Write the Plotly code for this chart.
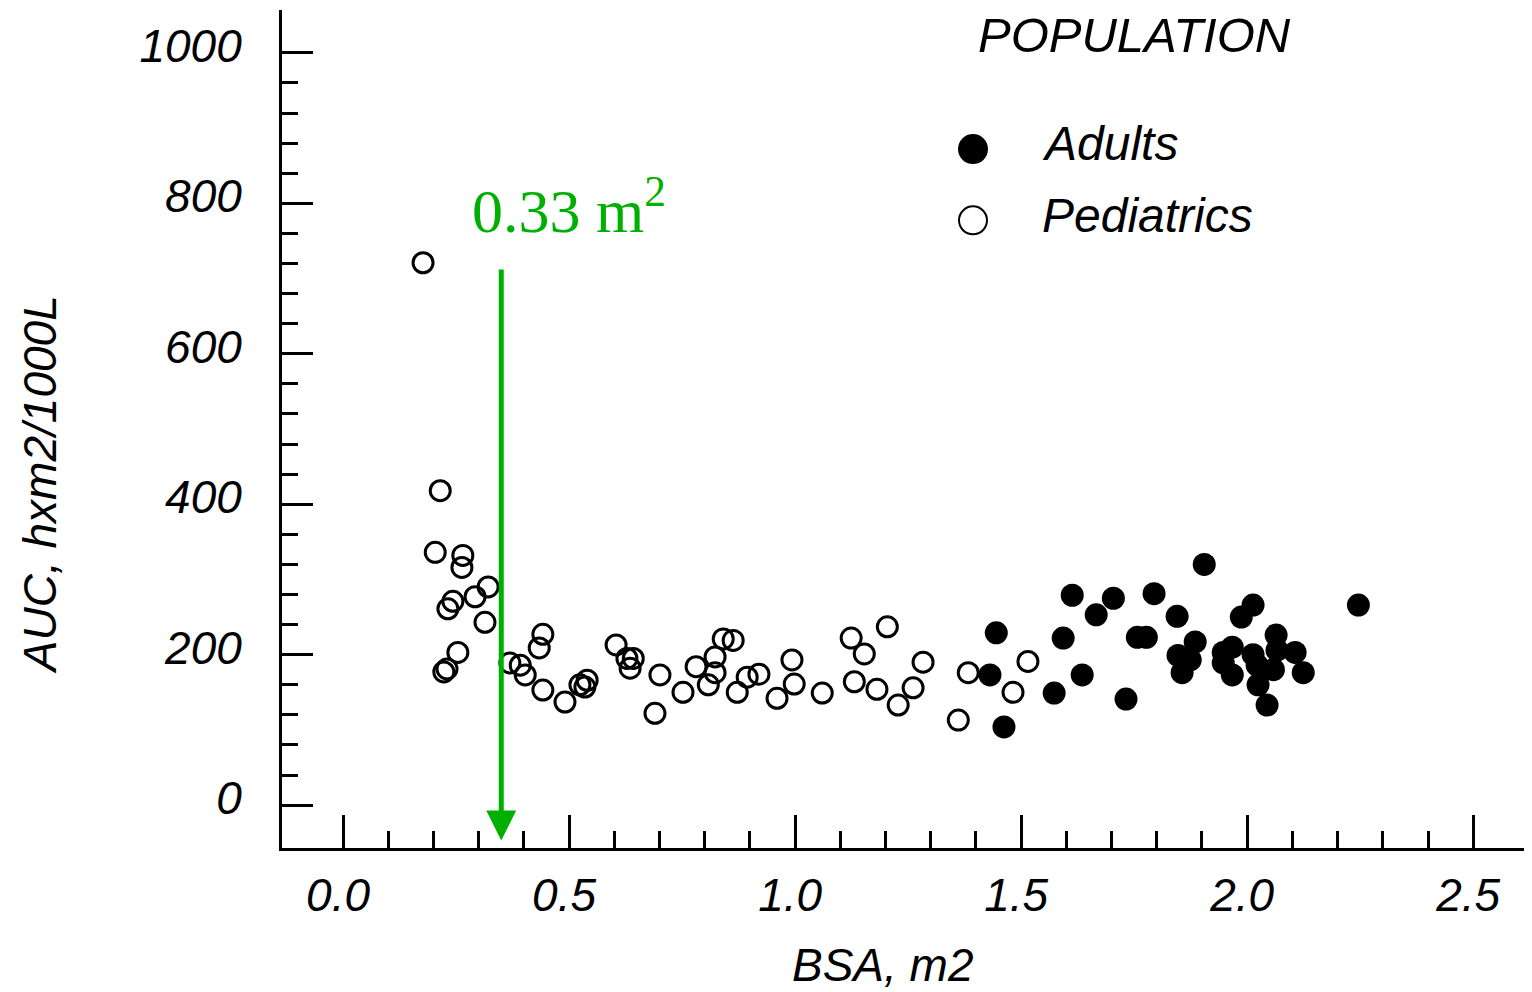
import plotly.graph_objects as go

# Pediatrics (open circles) - BSA (m2) and AUC (h x m2 / 1000 L)
ped_bsa = [0.177, 0.215, 0.204, 0.265, 0.263, 0.321, 0.292, 0.243, 0.232, 0.314,
           0.254, 0.230, 0.223, 0.369, 0.392, 0.403, 0.442, 0.434, 0.442, 0.491,
           0.524, 0.540, 0.535, 0.604, 0.628, 0.642, 0.635, 0.701, 0.690, 0.752,
           0.781, 0.823, 0.841, 0.863, 0.823, 0.808, 0.872, 0.894, 0.920, 0.960,
           0.993, 0.998, 1.060, 1.124, 1.153, 1.204, 1.131, 1.181, 1.228, 1.261,
           1.283, 1.383, 1.361, 1.482, 1.515]
ped_auc = [721, 418, 336, 332, 316, 290, 277, 271, 261, 243,
           203, 181, 177, 189, 186, 173, 227, 209, 153, 137,
           160, 166, 157, 213, 195, 195, 182, 173, 122, 150,
           184, 197, 221, 219, 176, 160, 150, 170, 174, 142,
           193, 161, 149, 222, 201, 237, 164, 154, 133, 156,
           190, 176, 113, 150, 191]

# Adults (filled circles)
adult_bsa = [1.445, 1.431, 1.462, 1.573, 1.593, 1.613, 1.704, 1.666, 1.794, 1.905,
             1.635, 1.732, 1.757, 1.777, 1.845, 1.885, 1.847, 1.874, 1.856, 2.013,
             1.987, 2.064, 1.947, 1.967, 1.947, 1.967, 2.013, 2.022, 2.024, 2.058,
             2.066, 2.106, 2.124, 2.044, 2.246]
adult_auc = [229, 173, 104, 149, 222, 279, 275, 253, 281, 320,
             173, 141, 223, 223, 251, 217, 199, 193, 176, 266,
             250, 226, 203, 210, 189, 173, 200, 186, 160, 180,
             206, 203, 176, 133, 266]

x_ticks = [0.0, 0.5, 1.0, 1.5, 2.0, 2.5]
y_ticks = [0, 200, 400, 600, 800, 1000]
x_minor = [round(i * 0.1, 1) for i in range(1, 25) if i % 5]
y_minor = [i * 40 for i in range(1, 25) if i % 5]

arrow_bsa = 0.35
arrow_label = "0.33 m<sup>2</sup>"
GREEN = "#00B000"

FONT = "Liberation Sans, Arial, sans-serif"
ital = dict(family=FONT, size=46, color="black", style="italic")

fig = go.Figure()
fig.add_trace(go.Scatter(
    x=ped_bsa, y=ped_auc, mode="markers", name="Pediatrics",
    marker=dict(symbol="circle-open", size=20, color="black", line=dict(width=3)),
))
fig.add_trace(go.Scatter(
    x=adult_bsa, y=adult_auc, mode="markers", name="Adults",
    marker=dict(symbol="circle", size=23, color="black", line=dict(width=0)),
))

# green arrow
fig.add_annotation(
    x=arrow_bsa, y=-47, ax=arrow_bsa, ay=714, axref="x", ayref="y",
    xref="x", yref="y", text="", showarrow=True,
    arrowhead=2, arrowwidth=5, arrowsize=1.2, arrowcolor=GREEN, standoff=0,
)
fig.add_annotation(
    x=0.50, y=797, xref="x", yref="y", text=arrow_label, showarrow=False,
    xanchor="center", yanchor="middle",
    font=dict(family="Liberation Serif, Times New Roman, serif", size=62, color=GREEN),
)

# legend drawn by hand
def label(x, y, text, anchor="center", angle=0, size=46):
    fig.add_annotation(x=x, y=y, xref="paper", yref="paper", text=text, textangle=angle,
                       xanchor=anchor, yanchor="middle", showarrow=False,
                       font=dict(ital, size=size))

label(0.6816, 0.970, "POPULATION", size=49)
label(0.6064, 0.841, "Adults", "left", size=48)
label(0.6064, 0.755, "Pediatrics", "left", size=48)
fig.add_shape(type="circle", xref="paper", yref="paper", xsizemode="pixel", ysizemode="pixel",
              xanchor=0.5528, yanchor=0.834, x0=-15, x1=15, y0=-15, y1=15,
              fillcolor="black", line=dict(color="black", width=0))
fig.add_shape(type="circle", xref="paper", yref="paper", xsizemode="pixel", ysizemode="pixel",
              xanchor=0.5528, yanchor=0.749, x0=-14, x1=14, y0=-14, y1=14,
              fillcolor="white", line=dict(color="black", width=2))

# axis titles
label(0.481, -0.140, "BSA, m2")
label(-0.1936, 0.433, "AUC, hxm2/1000L", angle=-90)

fig.update_xaxes(
    range=[-0.135, 2.63], showgrid=False, zeroline=False,
    showline=True, linecolor="black", linewidth=3,
    tickmode="array", tickvals=x_ticks, ticktext=[f"{v:.1f}" for v in x_ticks],
    ticks="inside", ticklen=33, tickwidth=3, tickcolor="black",
    tickfont=ital, ticklabelstandoff=5, ticklabelshift=-5,
    minor=dict(tickmode="array", tickvals=x_minor, ticks="inside",
               ticklen=17, tickwidth=2.5, tickcolor="black", showgrid=False),
)
fig.update_yaxes(
    range=[-57, 1057], showgrid=False, zeroline=False,
    showline=True, linecolor="black", linewidth=3,
    tickmode="array", tickvals=y_ticks, ticktext=[str(v) for v in y_ticks],
    ticks="inside", ticklen=31, tickwidth=3, tickcolor="black",
    tickfont=ital, ticklabelstandoff=28, ticklabelshift=-7,
    minor=dict(tickmode="array", tickvals=y_minor, ticks="inside",
               ticklen=16, tickwidth=2.5, tickcolor="black", showgrid=False),
)

# page body has an 8px margin, so the figure is 8px smaller than the window
fig.update_layout(
    width=1524, height=984,
    margin=dict(l=274, r=0, t=2, b=144),
    plot_bgcolor="white", paper_bgcolor="white",
    showlegend=False,
)

fig.write_html("out.html")
